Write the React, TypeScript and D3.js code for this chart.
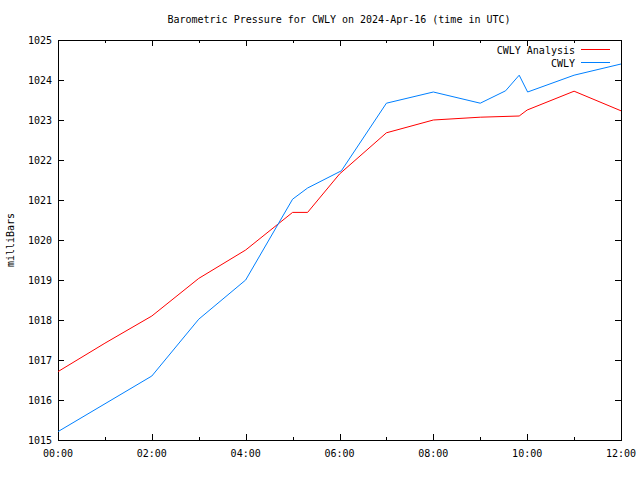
import React from "react";
import * as d3 from "d3";

const analysisHours = [0, 1, 2, 3, 4, 5, 5.32, 6, 7, 8, 9, 9.83, 10, 11, 12];
const analysisValues = [1016.71, 1017.42, 1018.1, 1019.04, 1019.75, 1020.69, 1020.69, 1021.65, 1022.68, 1023.0, 1023.07, 1023.1, 1023.25, 1023.72, 1023.23];

const obsHours = [0, 2, 3, 4, 5, 5.32, 6.04, 7, 8, 9, 9.54, 9.83, 10.01, 11, 12];
const obsValues = [1015.21, 1016.6, 1018.02, 1019.0, 1021.02, 1021.3, 1021.73, 1023.42, 1023.7, 1023.42, 1023.73, 1024.12, 1023.7, 1024.12, 1024.4];

const yTicks = [1015, 1016, 1017, 1018, 1019, 1020, 1021, 1022, 1023, 1024, 1025];
const xMajorTicks = [0, 2, 4, 6, 8, 10, 12];
const xMinorTicks = [1, 3, 5, 7, 9, 11];

const title = "Barometric Pressure for CWLY on 2024-Apr-16 (time in UTC)";
const yLabel = "milliBars";
const seriesNames = ["CWLY Analysis", "CWLY"];
const seriesColors = ["#ff0000", "#0080ff"];

const W = 640, H = 480;
const L = 58, R = 621, T = 40, B = 440;
const FONT = "'DejaVu Sans Mono', monospace";

export default function App() {
  const x = d3.scaleLinear().domain([0, 12]).range([L, R]);
  const y = d3.scaleLinear().domain([1015, 1025]).range([B, T]);
  const line = d3.line<[number, number]>().x(d => x(d[0])).y(d => y(d[1]));
  const aData = analysisHours.map((h, i) => [h, analysisValues[i]] as [number, number]);
  const oData = obsHours.map((h, i) => [h, obsValues[i]] as [number, number]);
  const fmt = (h: number) => (h < 10 ? "0" + h : "" + h) + ":00";

  return (
    <svg width={W} height={H} style={{ position: "absolute", left: 0, top: 0, background: "#fff" }} fontFamily={FONT} fontSize={10}>
      <rect x={0} y={0} width={W} height={H} fill="#fff" />
      <text x={W / 2 + 19} y={23} textAnchor="middle">{title}</text>
      <text transform={`translate(14,${(T + B) / 2}) rotate(-90)`} textAnchor="middle">{yLabel}</text>
      <g shapeRendering="crispEdges" stroke="#000">
        {yTicks.map(v => (
          <g key={v}>
            <line x1={L} x2={L + 6} y1={Math.round(y(v)) + 0.5} y2={Math.round(y(v)) + 0.5} />
            <line x1={R} x2={R - 6} y1={Math.round(y(v)) + 0.5} y2={Math.round(y(v)) + 0.5} />
          </g>
        ))}
        {xMajorTicks.map(h => (
          <g key={h}>
            <line x1={Math.round(x(h)) + 0.5} x2={Math.round(x(h)) + 0.5} y1={B} y2={B - 6} />
            <line x1={Math.round(x(h)) + 0.5} x2={Math.round(x(h)) + 0.5} y1={T} y2={T + 6} />
          </g>
        ))}
        {xMinorTicks.map(h => (
          <g key={h}>
            <line x1={Math.round(x(h)) + 0.5} x2={Math.round(x(h)) + 0.5} y1={B} y2={B - 3} />
            <line x1={Math.round(x(h)) + 0.5} x2={Math.round(x(h)) + 0.5} y1={T} y2={T + 3} />
          </g>
        ))}
        <rect x={L + 0.5} y={T + 0.5} width={R - L} height={B - T} fill="none" />
      </g>
      {yTicks.map(v => (
        <text key={v} x={L - 6} y={y(v) + 4} textAnchor="end">{v}</text>
      ))}
      {xMajorTicks.map(h => (
        <text key={h} x={x(h)} y={B + 17} textAnchor="middle">{fmt(h)}</text>
      ))}
      <path d={line(aData) || ""} fill="none" stroke={seriesColors[0]} strokeWidth={1} />
      <path d={line(oData) || ""} fill="none" stroke={seriesColors[1]} strokeWidth={1} />
      {seriesNames.map((n, i) => (
        <g key={n}>
          <text x={575} y={53.5 + i * 13} textAnchor="end">{n}</text>
          <line x1={581} x2={610} y1={49.5 + i * 13} y2={49.5 + i * 13} stroke={seriesColors[i]} shapeRendering="crispEdges" />
        </g>
      ))}
    </svg>
  );
}
